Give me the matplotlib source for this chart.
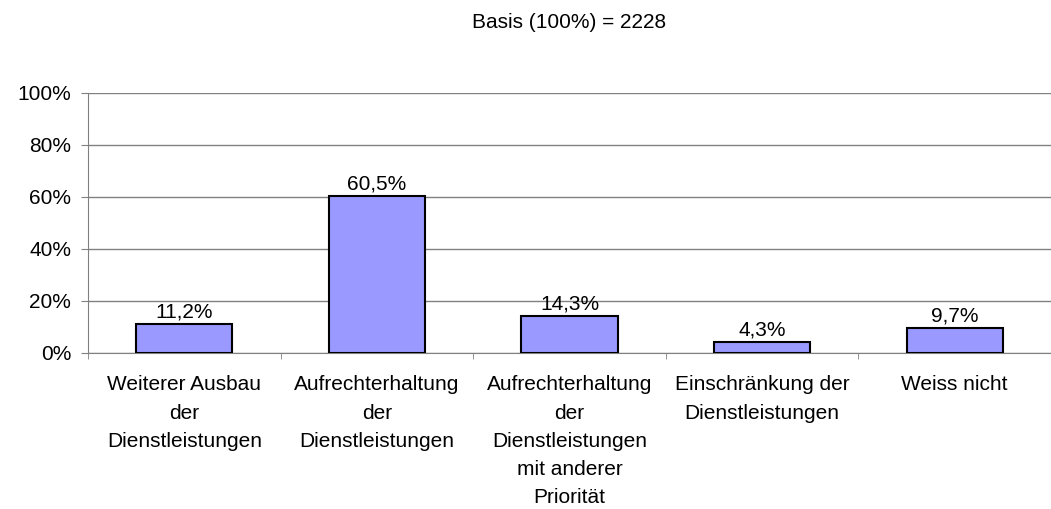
import matplotlib.pyplot as plt
from matplotlib.ticker import FixedLocator
import numpy as np

plt.rcParams['font.family'] = ['Liberation Sans', 'DejaVu Sans']

# Kategorien und Werte (in %)
categories = ["Weiterer Ausbau\nder\nDienstleistungen",
              "Aufrechterhaltung\nder\nDienstleistungen",
              "Aufrechterhaltung\nder\nDienstleistungen\nmit anderer\nPriorität",
              "Einschränkung der\nDienstleistungen",
              "Weiss nicht"]
values = [11.2, 60.5, 14.3, 4.3, 9.7]
labels = ["11,2%", "60,5%", "14,3%", "4,3%", "9,7%"]
title = "Basis (100%) = 2228"

fs = 15

fig = plt.figure(figsize=(10.51, 5.09), dpi=100)
ax = fig.add_axes([88 / 1051, (509 - 353) / 509, (1051 - 88) / 1051, 260 / 509])

x = np.arange(len(values))
ax.bar(x, values, width=0.5, color="#9999FF", edgecolor="black", linewidth=1.5, zorder=3)

for xi, v, lab in zip(x, values, labels):
    ax.text(xi, v + 0.8, lab, ha="center", va="bottom", fontsize=fs)

ax.set_xlim(-0.5, len(values) - 0.5)
ax.set_ylim(0, 100)
ax.set_yticks(np.arange(0, 101, 20))
ax.set_yticklabels([f"{t}%" for t in range(0, 101, 20)], fontsize=fs)
ax.yaxis.grid(True, color="#808080", linewidth=1)
ax.set_axisbelow(True)

ax.set_xticks(x)
ax.set_xticklabels(categories, fontsize=fs, va="top", linespacing=1.62)
ax.tick_params(axis="x", which="major", length=0, pad=16)
ax.xaxis.set_minor_locator(FixedLocator(np.arange(-0.5, len(values), 1)))
ax.tick_params(axis="x", which="minor", length=4.5, color="#808080", direction="out")
ax.tick_params(axis="y", length=5, color="#808080", direction="out", pad=7)

for s in ["top", "right"]:
    ax.spines[s].set_visible(False)
ax.spines["left"].set_color("#808080")
ax.spines["bottom"].set_color("#808080")

fig.text((88 + 1051) / 2 / 1051, 1 - 28 / 509, title, ha="center", va="baseline", fontsize=fs)

fig.savefig("out.png", dpi=100)
